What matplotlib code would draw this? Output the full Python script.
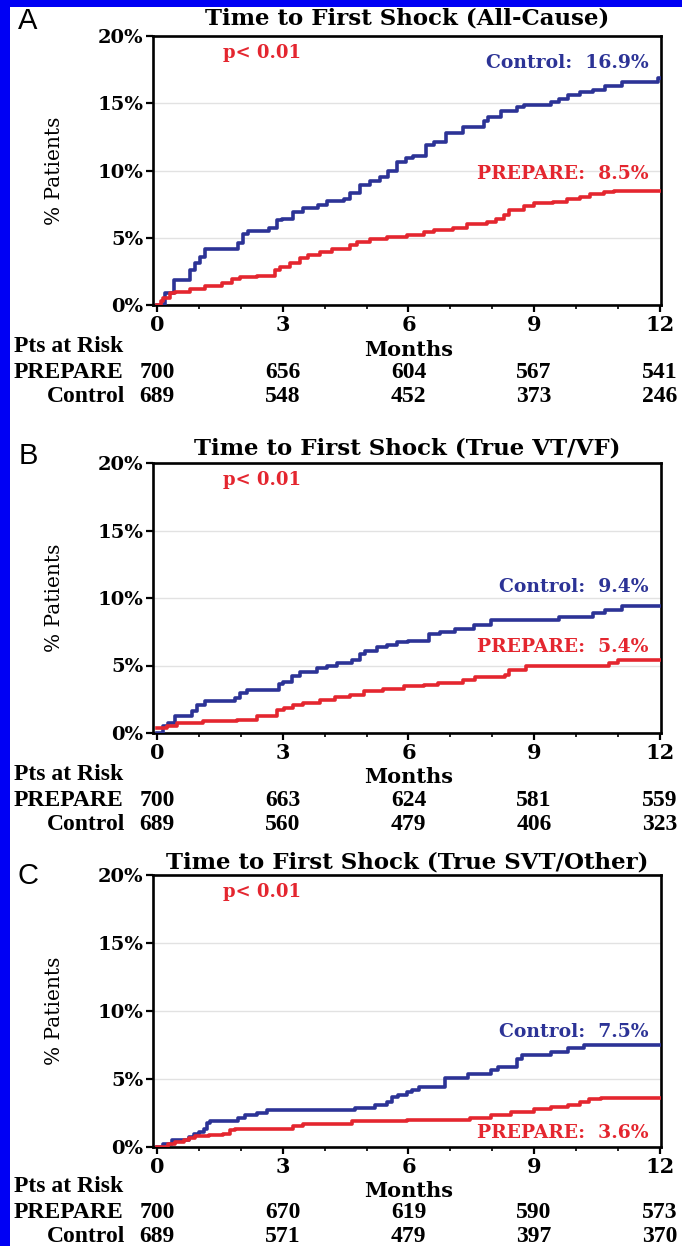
import numpy as np
import matplotlib
matplotlib.use("Agg")
import matplotlib.pyplot as plt
from matplotlib.patches import Rectangle
from matplotlib.ticker import MultipleLocator, FuncFormatter

# ---------------- data ----------------
FOLLOW_UP = 12
titles = ["Time to First Shock (All-Cause)",
          "Time to First Shock (True VT/VF)",
          "Time to First Shock (True SVT/Other)"]
panel_letters = ["A", "B", "C"]
p_labels = ["p< 0.01", "p< 0.01", "p< 0.01"]
final_control = [16.9, 9.4, 7.5]
final_prepare = [8.5, 5.4, 3.6]

risk_months = [0, 3, 6, 9, 12]
risk_prepare = [[700, 656, 604, 567, 541],
                [700, 663, 624, 581, 559],
                [700, 670, 619, 590, 573]]
risk_control = [[689, 548, 452, 373, 246],
                [689, 560, 479, 406, 323],
                [689, 571, 479, 397, 370]]

# Kaplan-Meier event times (months) and cumulative % with a shock
ctrl_a_t = [0, 0.19, 0.39, 0.79, 0.91, 1.03, 1.15, 1.94, 2.06, 2.18, 2.66, 2.86, 2.98,
            3.25, 3.49, 3.85, 4.05, 4.45, 4.6, 4.84, 5.08, 5.32, 5.52, 5.72, 5.95, 6.1,
            6.43, 6.6, 6.9, 7.3, 7.8, 7.9, 8.2, 8.6, 8.75, 9.4, 9.6, 9.8, 10.1, 10.4,
            10.7, 11.1, 11.95]
ctrl_a_y = [0, 0.9, 1.85, 2.6, 3.1, 3.6, 4.2, 4.6, 5.3, 5.5, 5.7, 6.3, 6.4,
            6.9, 7.2, 7.4, 7.7, 7.9, 8.3, 8.9, 9.2, 9.5, 10.0, 10.6, 10.9, 11.1,
            11.9, 12.1, 12.8, 13.2, 13.7, 14.0, 14.4, 14.7, 14.85, 15.1, 15.3, 15.6, 15.8, 16.0,
            16.3, 16.6, 16.9]
prep_a_t = [0, 0.1, 0.15, 0.3, 0.43, 0.79, 1.15, 1.54, 1.78, 1.98, 2.38, 2.82, 2.94,
            3.17, 3.41, 3.61, 3.89, 4.17, 4.6, 4.77, 5.08, 5.48, 5.96, 6.36, 6.6, 7.07,
            7.4, 7.87, 8.1, 8.27, 8.39, 8.75, 8.99, 9.46, 9.78, 10.1, 10.34, 10.66, 10.9]
prep_a_y = [0, 0.3, 0.5, 0.87, 1.0, 1.16, 1.4, 1.6, 1.9, 2.05, 2.15, 2.6, 2.85,
            3.15, 3.5, 3.7, 3.96, 4.2, 4.45, 4.65, 4.9, 5.07, 5.2, 5.4, 5.57, 5.7,
            6.0, 6.2, 6.36, 6.7, 7.05, 7.35, 7.55, 7.67, 7.9, 8.05, 8.24, 8.4, 8.5]

ctrl_b_t = [0, 0.15, 0.27, 0.43, 0.83, 0.95, 1.15, 1.86, 1.98, 2.14, 2.9, 3.0, 3.21,
            3.41, 3.81, 4.05, 4.29, 4.65, 4.84, 4.97, 5.24, 5.48, 5.72, 6.0, 6.5, 6.75,
            7.1, 7.57, 7.97, 9.6, 10.4, 10.7, 11.1]
ctrl_b_y = [0, 0.5, 0.74, 1.23, 1.6, 2.1, 2.34, 2.6, 2.95, 3.15, 3.65, 3.8, 4.2,
            4.55, 4.8, 5.0, 5.17, 5.4, 5.86, 6.1, 6.35, 6.5, 6.77, 6.85, 7.35, 7.5,
            7.7, 8.0, 8.37, 8.6, 8.87, 9.1, 9.4]
prep_b_t = [0, 0.23, 0.47, 1.1, 1.9, 2.38, 2.86, 3.02, 3.25, 3.49, 3.89, 4.25, 4.61,
            4.93, 5.4, 5.9, 6.37, 6.7, 7.3, 7.6, 8.3, 8.4, 8.8, 10.8, 11.0]
prep_b_y = [0.37, 0.54, 0.74, 0.86, 1.0, 1.23, 1.72, 1.85, 2.05, 2.2, 2.46, 2.66, 2.83,
            3.08, 3.28, 3.45, 3.57, 3.74, 3.94, 4.14, 4.3, 4.68, 4.98, 5.2, 5.4]

ctrl_c_t = [0, 0.15, 0.35, 0.75, 0.87, 0.99, 1.11, 1.2, 1.27, 1.94, 2.1, 2.38, 2.62,
            4.73, 5.2, 5.48, 5.6, 5.76, 5.96, 6.08, 6.24, 6.87, 7.43, 7.98, 8.14, 8.6,
            8.7, 9.4, 9.8, 10.2]
ctrl_c_y = [0, 0.2, 0.54, 0.74, 0.93, 1.1, 1.35, 1.77, 1.92, 2.16, 2.33, 2.5, 2.7,
            2.9, 3.07, 3.3, 3.64, 3.8, 4.05, 4.18, 4.42, 5.04, 5.36, 5.65, 5.9, 6.5,
            6.76, 7.0, 7.25, 7.5]
prep_c_t = [0, 0.27, 0.43, 0.63, 0.75, 0.91, 1.23, 1.58, 1.74, 1.86, 3.25, 3.49, 4.65,
            5.96, 7.47, 7.98, 8.44, 9.0, 9.4, 9.8, 10.1, 10.3, 10.6]
prep_c_y = [0, 0.2, 0.37, 0.54, 0.69, 0.79, 0.86, 0.95, 1.23, 1.35, 1.52, 1.72, 1.9,
            2.0, 2.1, 2.33, 2.58, 2.83, 2.95, 3.07, 3.3, 3.5, 3.6]

control_curves = [(ctrl_a_t, ctrl_a_y), (ctrl_b_t, ctrl_b_y), (ctrl_c_t, ctrl_c_y)]
prepare_curves = [(prep_a_t, prep_a_y), (prep_b_t, prep_b_y), (prep_c_t, prep_c_y)]

# ---------------- style ----------------
BLUE = "#2c3396"
RED = "#e4262f"
BORDER = "#0000f4"
SERIF = ["DejaVu Serif"]
TABLE = ["Liberation Serif"]

W, H = 682, 1246
fig = plt.figure(figsize=(W / 100, H / 100), dpi=100)
fig.patch.set_facecolor(BORDER)
fig.add_artist(Rectangle((10 / W, 0), 1 - 10 / W, 1 - 7 / H,
                         transform=fig.transFigure, facecolor="white",
                         edgecolor="none", zorder=-10))

ax_left, ax_right = 153, 661
ax_tops = [36, 463, 875]
ax_bottoms = [305, 733, 1147]
title_y = [18, 448, 862]
letter_y = [21, 456, 876]
ctrl_label_y = [63, 587, 1032]
prep_label_y = [174, 647, 1133]
# vertical offsets (px below the axes) of the patients-at-risk rows
row_offsets = [(41, 45, 67, 92), (41, 44, 67, 92), (40, 44, 66, 89)]


def fx(px):
    return px / W


def fy(py):
    return 1 - py / H


def extend(t, y):
    return np.append(t, FOLLOW_UP), np.append(y, y[-1])


for i in range(3):
    top, bot = ax_tops[i], ax_bottoms[i]
    ah = bot - top
    ax = fig.add_axes([fx(ax_left), fy(bot), fx(ax_right - ax_left), ah / H])
    ax.set_xlim(-0.1, 12.03)
    ax.set_ylim(0, 20)

    tt, yy = extend(*control_curves[i])
    ax.step(tt, yy, where="post", color=BLUE, lw=2.6, zorder=3)
    tt, yy = extend(*prepare_curves[i])
    ax.step(tt, yy, where="post", color=RED, lw=2.6, zorder=3)

    for s in ax.spines.values():
        s.set_linewidth(1.9)
        s.set_color("black")
    ax.yaxis.grid(True, color="#e2e2e2", lw=1.0)
    ax.set_axisbelow(True)
    ax.xaxis.set_major_locator(MultipleLocator(3))
    ax.xaxis.set_minor_locator(MultipleLocator(1))
    ax.yaxis.set_major_locator(MultipleLocator(5))
    ax.yaxis.set_major_formatter(FuncFormatter(lambda v, p: f"{v:.0f}%"))
    ax.tick_params(axis="both", which="major", direction="out", length=5,
                   width=1.6, pad=2)
    ax.tick_params(axis="x", which="minor", direction="out", length=3, width=1.2)
    for lab in ax.get_yticklabels():
        lab.set_fontfamily(SERIF)
        lab.set_fontweight("bold")
        lab.set_fontsize(14)
    for lab in ax.get_xticklabels():
        lab.set_fontfamily(SERIF)
        lab.set_fontweight("bold")
        lab.set_fontsize(15)

    # title, p-value and end-point labels
    ax.text(0.5, 1 + (top - title_y[i]) / ah, titles[i], transform=ax.transAxes,
            ha="center", va="center", fontsize=16.5, fontweight="bold", family=SERIF)
    ax.text(0.215, 1 - 17 / ah, p_labels[i], transform=ax.transAxes, ha="center",
            va="center", color=RED, fontsize=13, fontweight="bold", family=SERIF)
    ax.text(0.975, 1 - (ctrl_label_y[i] - top) / ah, f"Control:  {final_control[i]}%",
            transform=ax.transAxes, ha="right", va="center", color=BLUE,
            fontsize=13.5, fontweight="bold", family=SERIF)
    ax.text(0.975, 1 - (prep_label_y[i] - top) / ah, f"PREPARE:  {final_prepare[i]}%",
            transform=ax.transAxes, ha="right", va="center", color=RED,
            fontsize=13.5, fontweight="bold", family=SERIF)

    # y label and panel letter
    fig.text(fx(54), fy((top + bot) / 2), "% Patients", rotation=90, ha="center",
             va="center", fontsize=14.5, family=SERIF)
    fig.text(fx(28), fy(letter_y[i]), panel_letters[i], ha="center", va="center",
             fontsize=21, family=["Liberation Sans"])

    # months label and patients-at-risk table
    off_hdr, off_months, off_p, off_c = row_offsets[i]
    xt = ax.get_xaxis_transform()
    ax.text(6, -off_months / ah, "Months", transform=xt, ha="center",
            va="center", fontsize=15, fontweight="bold", family=SERIF)
    fig.text(fx(14), fy(bot + off_hdr), "Pts at Risk", ha="left", va="center",
             fontsize=17, fontweight="bold", family=TABLE)
    fig.text(fx(14), fy(bot + off_p), "PREPARE", ha="left", va="center",
             fontsize=17, fontweight="bold", family=TABLE)
    fig.text(fx(125), fy(bot + off_c), "Control", ha="right", va="center",
             fontsize=17, fontweight="bold", family=TABLE)
    for m, n_p, n_c in zip(risk_months, risk_prepare[i], risk_control[i]):
        ax.text(m, -off_p / ah, str(n_p), transform=xt, ha="center", va="center",
                fontsize=17, fontweight="bold", family=TABLE)
        ax.text(m, -off_c / ah, str(n_c), transform=xt, ha="center", va="center",
                fontsize=17, fontweight="bold", family=TABLE)

fig.savefig("out.png", dpi=100, facecolor=fig.get_facecolor())
